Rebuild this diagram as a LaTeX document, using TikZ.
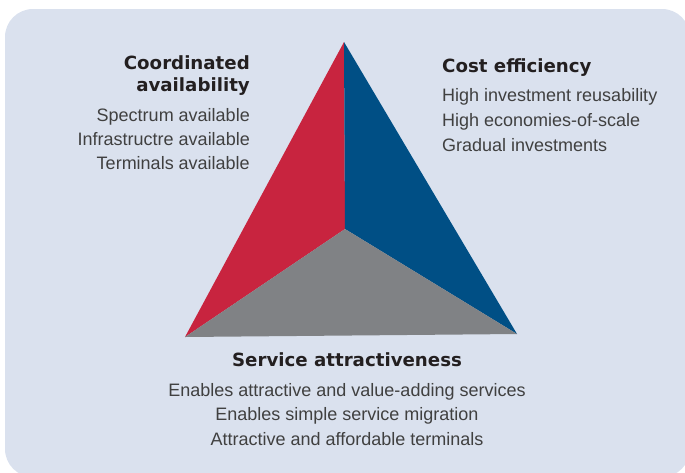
\documentclass[tikz,border=0pt]{standalone}
\usepackage{fontspec}
\setmainfont{Liberation Sans}
\newfontfamily\headfont{DejaVu Sans}
\definecolor{bgpanel}{HTML}{DAE1EE}
\definecolor{redface}{HTML}{C8243F}
\definecolor{blueface}{HTML}{004F85}
\definecolor{grayface}{HTML}{808285}
\definecolor{headcol}{HTML}{231F20}
\definecolor{bodycol}{HTML}{404040}
\begin{document}
\begin{tikzpicture}[x=1pt,y=-1pt,
  headtxt/.style={inner sep=0pt,font=\headfont\bfseries\fontsize{18.2}{21}\selectfont,text=headcol},
  bodytxt/.style={inner sep=0pt,font=\fontsize{18}{21}\selectfont,text=bodycol}]
\useasboundingbox (0,0) rectangle (685,472);
\clip (0,0) rectangle (685,472);
\fill[bgpanel,rounded corners=28pt] (5,9) rectangle (690,477);
% triangle
\coordinate (apex) at (344,42);
\coordinate (ctr) at (345,229);
\coordinate (bl) at (185,337);
\coordinate (br) at (517,334);
\fill[redface] (apex) -- (ctr) -- (bl) -- cycle;
\fill[blueface] (apex) -- (br) -- (ctr) -- cycle;
\fill[grayface] (ctr) -- (br) -- (bl) -- cycle;
% left block
\node[headtxt,anchor=base east] (la) at (250,69.5) {Coordinated};
\node[headtxt,anchor=base east] (lb) at (250,91.5) {availability};
\node[bodytxt,anchor=base east] (l1) at (250,121) {Spectrum available};
\node[bodytxt,anchor=base east] (l2) at (250,145) {Infrastructre available};
\node[bodytxt,anchor=base east] (l3) at (250,169) {Terminals available};
% right block
\node[headtxt,anchor=base west] (ra) at (442,72.5) {Cost efficiency};
\node[bodytxt,anchor=base west] (r1) at (442,101) {High investment reusability};
\node[bodytxt,anchor=base west] (r2) at (442,126) {High economies-of-scale};
\node[bodytxt,anchor=base west] (r3) at (442,151) {Gradual investments};
% bottom block
\node[headtxt,anchor=base] (ba) at (347,366.5) {Service attractiveness};
\node[bodytxt,anchor=base] (b1) at (347,396) {Enables attractive and value-adding services};
\node[bodytxt,anchor=base] (b2) at (347,420) {Enables simple service migration};
\node[bodytxt,anchor=base] (b3) at (347,445) {Attractive and affordable terminals};
\end{tikzpicture}
\end{document}
